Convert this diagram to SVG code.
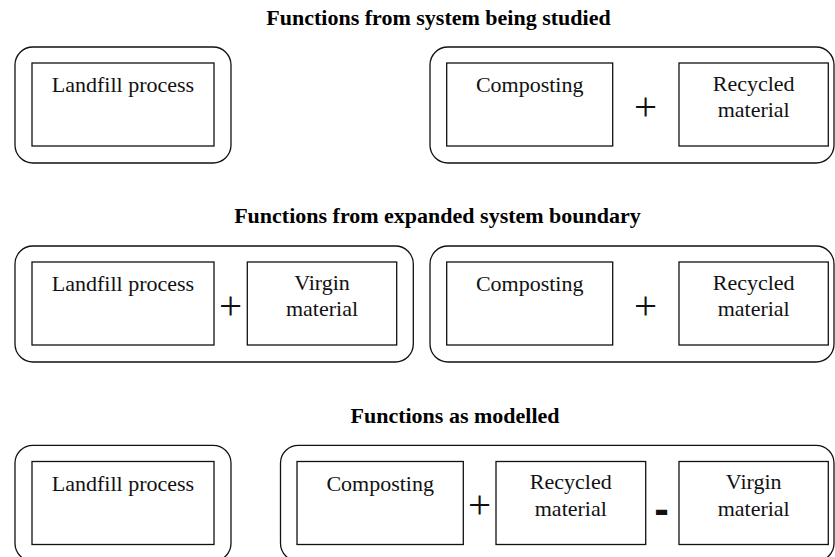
<svg xmlns="http://www.w3.org/2000/svg" width="835" height="557" viewBox="0 0 835 557">
  <style>
    .boundary { fill: none; stroke: #111; stroke-width: 1.3; }
    .box { fill: #fff; stroke: #111; stroke-width: 1.3; }
    .title { font-family: "Liberation Serif", "Times New Roman", serif; font-size: 22px; font-weight: bold; fill: #000; text-anchor: middle; }
    .label { font-family: "Liberation Serif", "Times New Roman", serif; font-size: 22px; fill: #111; text-anchor: middle; }
    .op { font-family: "Liberation Serif", "Times New Roman", serif; font-size: 41px; fill: #111; text-anchor: middle; }
    .minus { font-family: "Liberation Sans", Arial, sans-serif; font-size: 44px; font-weight: bold; fill: #111; text-anchor: middle; }
  </style>
  <rect width="835" height="557" fill="#fff"/>

  <!-- Section 1: functions from the system being studied -->
  <g id="section-studied">
    <text class="title" x="438.5" y="25">Functions from system being studied</text>
    <g id="s1-landfill-boundary">
      <rect class="boundary" x="15" y="47" width="216" height="116" rx="18" ry="18"/>
      <g id="s1-landfill">
        <rect class="box" x="32" y="63" width="182" height="83"/>
        <text class="label" x="123" y="92">Landfill process</text>
      </g>
    </g>
    <g id="s1-compost-boundary">
      <rect class="boundary" x="430" y="47" width="404" height="116" rx="18" ry="18"/>
      <g id="s1-composting">
        <rect class="box" x="446.7" y="63" width="166" height="83"/>
        <text class="label" x="529.7" y="92">Composting</text>
      </g>
      <g id="s1-recycled">
        <rect class="box" x="679" y="63" width="149.3" height="83"/>
        <text class="label" x="753.7" y="90.7">Recycled</text>
        <text class="label" x="753.7" y="117.3">material</text>
      </g>
    </g>
  </g>

  <!-- Section 2: functions from the expanded system boundary -->
  <g id="section-expanded">
    <text class="title" x="437.5" y="223">Functions from expanded system boundary</text>
    <g id="s2-landfill-boundary">
      <rect class="boundary" x="15" y="246" width="398.3" height="116" rx="18" ry="18"/>
      <g id="s2-landfill">
        <rect class="box" x="32" y="262" width="182" height="83"/>
        <text class="label" x="123" y="291">Landfill process</text>
      </g>
      <g id="s2-virgin">
        <rect class="box" x="247.3" y="262" width="149.4" height="83"/>
        <text class="label" x="322" y="289.7">Virgin</text>
        <text class="label" x="322" y="316.3">material</text>
      </g>
    </g>
    <g id="s2-compost-boundary">
      <rect class="boundary" x="430" y="246" width="404" height="116" rx="18" ry="18"/>
      <g id="s2-composting">
        <rect class="box" x="446.7" y="262" width="166" height="83"/>
        <text class="label" x="529.7" y="291">Composting</text>
      </g>
      <g id="s2-recycled">
        <rect class="box" x="679" y="262" width="149.3" height="83"/>
        <text class="label" x="753.7" y="289.7">Recycled</text>
        <text class="label" x="753.7" y="316.3">material</text>
      </g>
    </g>
  </g>

  <!-- Section 3: functions as modelled -->
  <g id="section-modelled">
    <text class="title" x="455" y="423">Functions as modelled</text>
    <g id="s3-landfill-boundary">
      <rect class="boundary" x="15" y="445.3" width="216" height="116" rx="18" ry="18"/>
      <g id="s3-landfill">
        <rect class="box" x="32" y="461.5" width="182" height="83"/>
        <text class="label" x="123" y="490.5">Landfill process</text>
      </g>
    </g>
    <g id="s3-compost-boundary">
      <rect class="boundary" x="280.5" y="445.3" width="553.5" height="116" rx="18" ry="18"/>
      <g id="s3-composting">
        <rect class="box" x="297" y="461.5" width="166.3" height="83"/>
        <text class="label" x="380.2" y="490.5">Composting</text>
      </g>
      <g id="s3-recycled">
        <rect class="box" x="496" y="461.5" width="149.7" height="83"/>
        <text class="label" x="570.8" y="489.2">Recycled</text>
        <text class="label" x="570.8" y="515.8">material</text>
      </g>
      <g id="s3-virgin">
        <rect class="box" x="679" y="461.5" width="149.3" height="83"/>
        <text class="label" x="753.7" y="489.2">Virgin</text>
        <text class="label" x="753.7" y="515.8">material</text>
      </g>
    </g>
  </g>

  <!-- Operators between the function boxes -->
  <g id="operators">
    <text class="op" x="645.5" y="120">+</text>
    <text class="op" x="230.5" y="319">+</text>
    <text class="op" x="645.5" y="319">+</text>
    <text class="op" x="479.5" y="518.2">+</text>
    <text class="minus" x="661.5" y="524">-</text>
  </g>
</svg>
